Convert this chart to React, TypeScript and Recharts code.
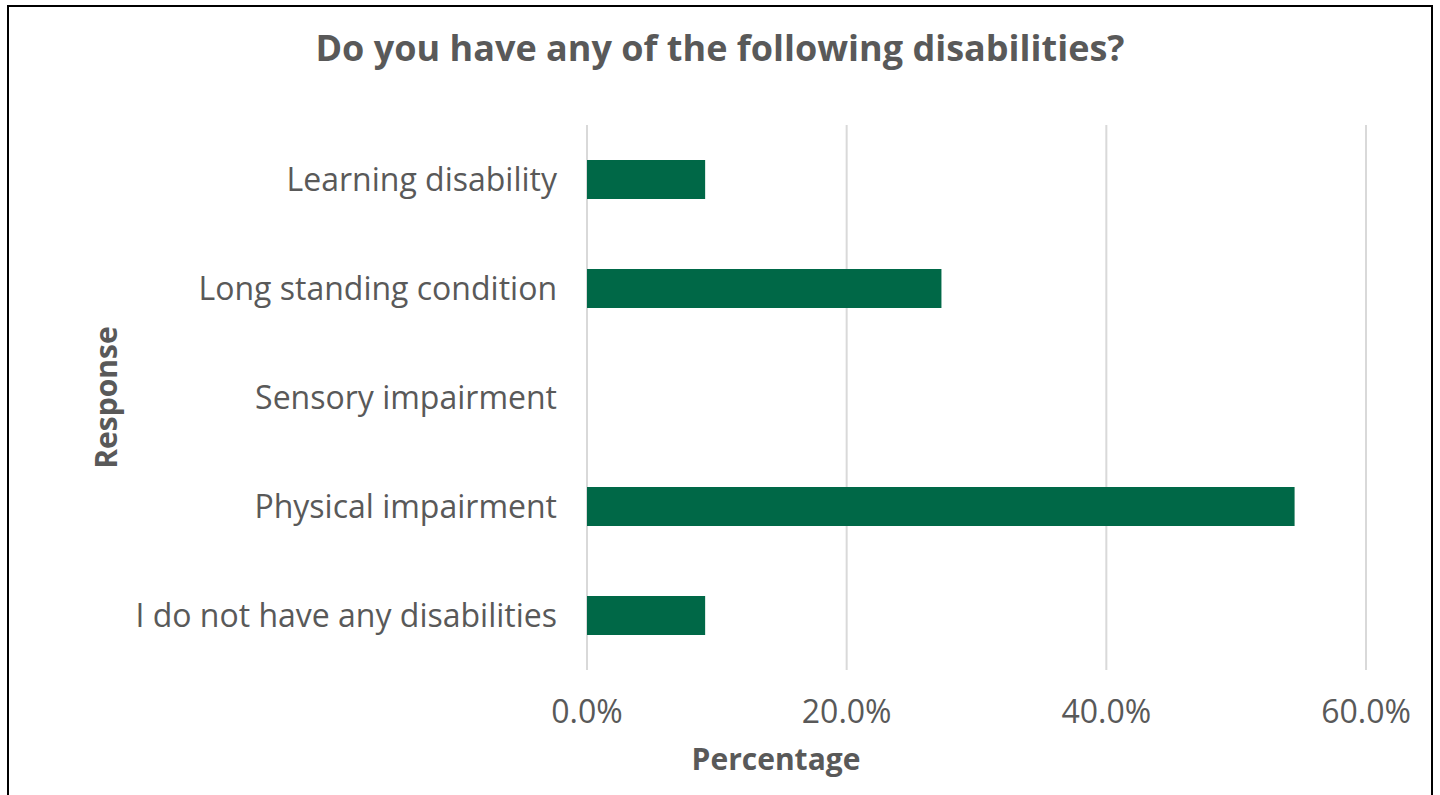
import { BarChart, Bar, XAxis, YAxis, CartesianGrid, Label } from 'recharts'

const categories = [
  'Learning disability',
  'Long standing condition',
  'Sensory impairment',
  'Physical impairment',
  'I do not have any disabilities',
]
const percentages = [9.1, 27.3, 0, 54.5, 9.1]
const xTicks = [0, 20, 40, 60]

const data = categories.map((name, i) => ({ name, value: percentages[i] }))

const TEXT = '#595959'
const FONT = '"Open Sans", sans-serif'

const XTick = ({ x, y, payload }: any) => (
  <text x={x} y={y + 51} textAnchor='middle' fill={TEXT} fontSize={32} fontFamily={FONT}>
    {payload.value.toFixed(1) + '%'}
  </text>
)

const YTick = ({ x, y, payload }: any) => (
  <text x={x - 28} y={y} dy='0.35em' textAnchor='end' fill={TEXT} fontSize={32} fontFamily={FONT}>
    {payload.value}
  </text>
)

export default function App() {
  return (
    <div
      style={{
        position: 'absolute',
        left: 7,
        top: 5,
        width: 1426,
        height: 800,
        border: '2px solid #000',
        boxSizing: 'border-box',
        background: '#fff',
      }}
    >
      {/* Title */}
      <div
        style={{
          position: 'absolute',
          left: 0,
          top: 23,
          width: '100%',
          textAlign: 'center',
          fontFamily: FONT,
          fontWeight: 700,
          fontSize: 36,
          lineHeight: 1,
          color: TEXT,
        }}
      >
        Do you have any of the following disabilities?
      </div>

      <BarChart
        width={1422}
        height={796}
        data={data}
        layout='vertical'
        barSize={39}
        margin={{ top: 118, right: 65, bottom: 73, left: 0 }}
      >
        <CartesianGrid horizontal={false} stroke='#d9d9d9' strokeWidth={2} />
        <XAxis
          type='number'
          domain={[0, 60]}
          ticks={xTicks}
          axisLine={false}
          tickLine={false}
          tickSize={0}
          height={60}
          tick={<XTick />}
        >
          <Label
            content={() => (
              <text x={767} y={763} textAnchor='middle' fill={TEXT} fontSize={30} fontWeight={700} fontFamily={FONT}>
                Percentage
              </text>
            )}
          />
        </XAxis>
        <YAxis
          type='category'
          dataKey='name'
          width={578}
          axisLine={false}
          tickLine={false}
          tickSize={0}
          tick={<YTick />}
        >
          <Label
            content={({ viewBox }: any) => {
              const cy = viewBox.y + viewBox.height / 2
              return (
                <text
                  x={108}
                  y={cy}
                  transform={`rotate(-90, 108, ${cy})`}
                  textAnchor='middle'
                  fill={TEXT}
                  fontSize={30}
                  fontWeight={700}
                  fontFamily={FONT}
                >
                  Response
                </text>
              )
            }}
          />
        </YAxis>
        <Bar dataKey='value' fill='#006847' isAnimationActive={false} />
      </BarChart>
    </div>
  )
}
